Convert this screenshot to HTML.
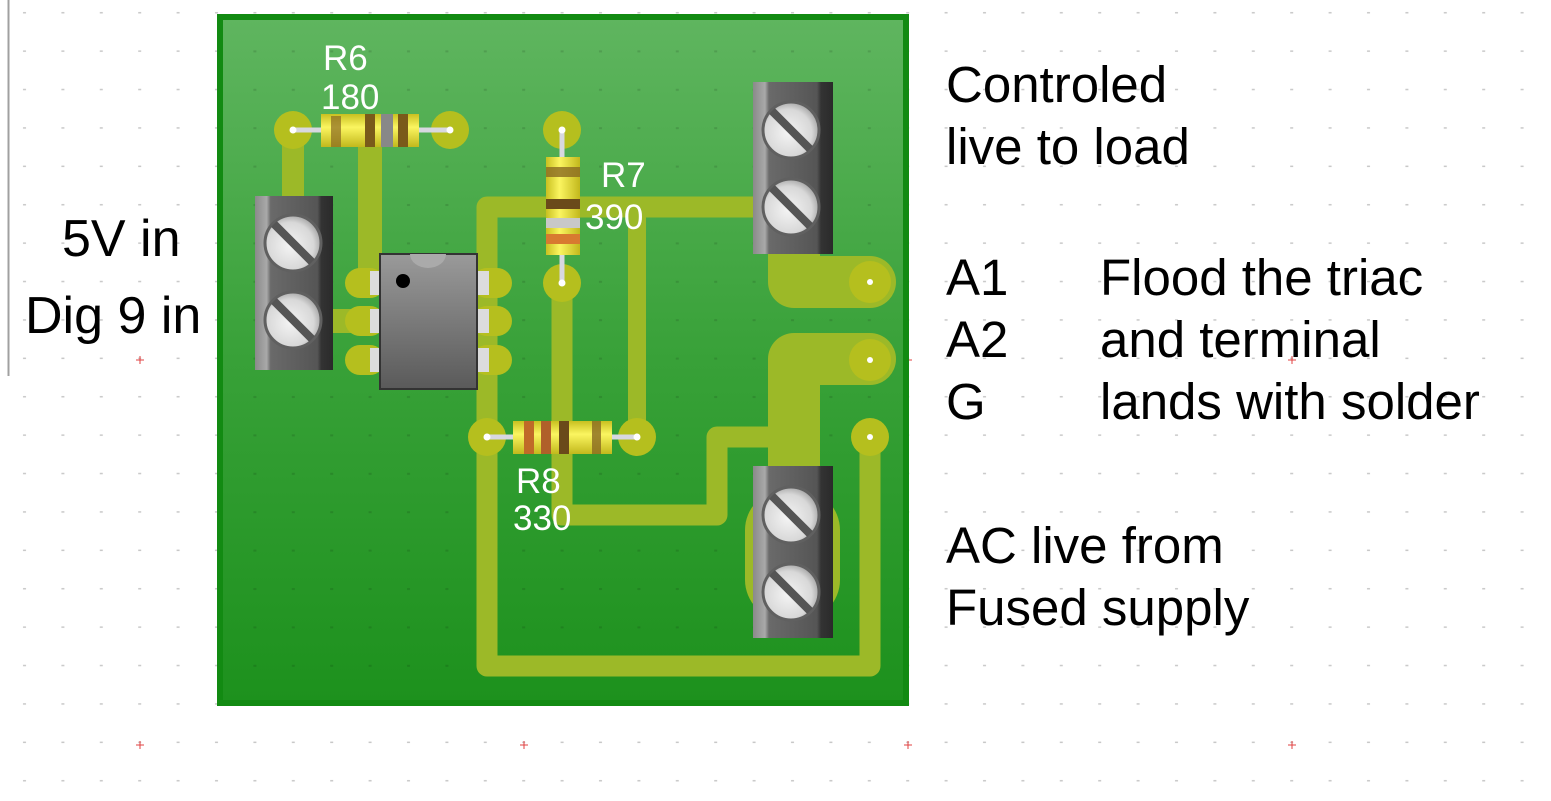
<!DOCTYPE html>
<html><head><meta charset="utf-8"><style>
html,body{margin:0;padding:0;background:#fff;}
svg{display:block;}
</style></head><body>
<svg width="1551" height="801" viewBox="0 0 1551 801" xmlns="http://www.w3.org/2000/svg">
<defs>
<pattern id="grid" x="5" y="-6" width="38.4" height="38.4" patternUnits="userSpaceOnUse">
<rect x="18" y="18" width="3" height="1.5" fill="#c8c8c8"/>
</pattern>
<pattern id="grid2" x="5" y="-6" width="38.4" height="38.4" patternUnits="userSpaceOnUse">
<rect x="18" y="18" width="3" height="2" fill="#000" opacity="0.12"/>
</pattern>
<linearGradient id="board" x1="0" y1="0" x2="0" y2="1">
<stop offset="0" stop-color="#5fb55f"/><stop offset="0.5" stop-color="#38a138"/><stop offset="1" stop-color="#1d911d"/>
</linearGradient>
<linearGradient id="term" x1="0" y1="0" x2="1" y2="0">
<stop offset="0" stop-color="#8a8a8a"/><stop offset="0.15" stop-color="#a9a9a9"/><stop offset="0.2" stop-color="#6a6a6a"/><stop offset="0.8" stop-color="#555"/><stop offset="0.85" stop-color="#333"/><stop offset="1" stop-color="#2a2a2a"/>
</linearGradient>
<radialGradient id="screw" cx="0.45" cy="0.55" r="0.6">
<stop offset="0" stop-color="#f4f4f4"/><stop offset="0.7" stop-color="#d8d8d8"/><stop offset="1" stop-color="#999"/>
</radialGradient>
<linearGradient id="ic" x1="0" y1="0" x2="0" y2="1">
<stop offset="0" stop-color="#9a9a9a"/><stop offset="1" stop-color="#5a5a5a"/>
</linearGradient>
<linearGradient id="resH" x1="0" y1="0" x2="0" y2="1">
<stop offset="0" stop-color="#c9c020"/><stop offset="0.4" stop-color="#fbf560"/><stop offset="1" stop-color="#c2b81c"/>
</linearGradient>
<linearGradient id="resV" x1="0" y1="0" x2="1" y2="0">
<stop offset="0" stop-color="#c9c020"/><stop offset="0.4" stop-color="#fbf560"/><stop offset="1" stop-color="#c2b81c"/>
</linearGradient>
</defs>
<rect width="1551" height="801" fill="url(#grid)"/>
<line x1="8.5" y1="0" x2="8.5" y2="376" stroke="#a0a0a0" stroke-width="2"/>
<g stroke="#e04040" stroke-width="1">
<path d="M136 360h8M140 356v8M520 360h8M524 356v8M1288 360h8M1292 356v8M136 745h8M140 741v8M520 745h8M524 741v8M904 745h8M908 741v8M1288 745h8M1292 741v8M904 360h8M908 356v8"/>
</g>
<rect x="217" y="14" width="692" height="692" fill="#128a12"/>
<rect x="223" y="20" width="680" height="680" fill="url(#board)"/>
<rect x="223" y="20" width="680" height="680" fill="url(#grid2)"/>
<g fill="none" stroke="#9cb928" stroke-linecap="round" stroke-linejoin="round">
<path d="M293 130V210" stroke-width="22"/>
<path d="M370 130V283" stroke-width="24"/>
<path d="M310 321H370" stroke-width="24"/>
<path d="M770 207H487V437" stroke-width="21"/>
<path d="M637 207V437" stroke-width="18"/>
<path d="M562 283V515H717V437H790" stroke-width="21"/>
<path d="M870 437V666H487V437" stroke-width="21"/>
<path d="M794 480V359H870" stroke-width="52"/>
<path d="M794 240V282H870" stroke-width="52"/>
</g>
<rect x="745" y="490" width="95" height="130" rx="40" fill="#9cb928"/>
<g fill="#b5bf1e">
<circle cx="293" cy="130" r="19"/><circle cx="450" cy="130" r="19"/>
<circle cx="562" cy="130" r="19"/><circle cx="562" cy="283" r="19"/>
<circle cx="487" cy="437" r="19"/><circle cx="637" cy="437" r="19"/>
<circle cx="870" cy="282" r="21"/><circle cx="870" cy="360" r="21"/><circle cx="870" cy="437" r="19"/>
<rect x="345" y="268" width="40" height="30" rx="15"/><rect x="345" y="306" width="40" height="30" rx="15"/><rect x="345" y="345" width="40" height="30" rx="15"/>
<rect x="472" y="268" width="40" height="30" rx="15"/><rect x="472" y="306" width="40" height="30" rx="15"/><rect x="472" y="345" width="40" height="30" rx="15"/>
</g>
<g stroke="#d8d8e0" stroke-width="5">
<path d="M293 130H450M562 130V283M487 437H637"/>
</g>
<g fill="#fff"><circle cx="293" cy="130" r="3.5"/><circle cx="450" cy="130" r="3.5"/><circle cx="562" cy="130" r="3.5"/><circle cx="562" cy="283" r="3.5"/><circle cx="487" cy="437" r="3.5"/><circle cx="637" cy="437" r="3.5"/><circle cx="870" cy="282" r="3"/><circle cx="870" cy="360" r="3"/><circle cx="870" cy="437" r="3"/></g>
<rect x="321" y="114" width="98" height="33" fill="url(#resH)"/>
<rect x="331" y="116" width="10" height="31" fill="#8a6a22" opacity="0.7"/>
<rect x="365" y="114" width="10" height="33" fill="#7a5a1a"/>
<rect x="381" y="114" width="12" height="33" fill="#888"/>
<rect x="398" y="114" width="10" height="33" fill="#7a5a1a"/>
<rect x="546" y="157" width="34" height="98" fill="url(#resV)"/>
<rect x="546" y="167" width="34" height="10" fill="#8a6a22" opacity="0.8"/>
<rect x="546" y="199" width="34" height="10" fill="#6a4a1a"/>
<rect x="546" y="218" width="34" height="10" fill="#c8c8c8"/>
<rect x="546" y="234" width="34" height="10" fill="#d87a30"/>
<rect x="513" y="421" width="99" height="33" fill="url(#resH)"/>
<rect x="524" y="421" width="10" height="33" fill="#c06a28"/>
<rect x="541" y="421" width="10" height="33" fill="#b0602a"/>
<rect x="559" y="421" width="10" height="33" fill="#6a4a1a"/>
<rect x="592" y="421" width="9" height="33" fill="#8a6a22" opacity="0.8"/>
<g fill="#dcdcdc"><rect x="370" y="271" width="12" height="24"/><rect x="370" y="309" width="12" height="24"/><rect x="370" y="348" width="12" height="24"/><rect x="477" y="271" width="12" height="24"/><rect x="477" y="309" width="12" height="24"/><rect x="477" y="348" width="12" height="24"/></g>
<rect x="380" y="254" width="97" height="135" fill="url(#ic)"/>
<rect x="380" y="254" width="97" height="135" fill="none" stroke="#333" stroke-width="2"/>
<path d="M410 254a18 14 0 0 0 36 0z" fill="#aaa"/>
<circle cx="403" cy="281" r="7" fill="#000"/>
<g>
<rect x="255" y="196" width="78" height="174" fill="url(#term)"/>
<rect x="753" y="82" width="80" height="172" fill="url(#term)"/>
<rect x="753" y="466" width="80" height="172" fill="url(#term)"/>
</g>
<g stroke="#606060" stroke-width="3" fill="url(#screw)">
<circle cx="293" cy="243" r="28"/><circle cx="293" cy="320" r="28"/>
<circle cx="791" cy="130" r="28"/><circle cx="791" cy="207" r="28"/>
<circle cx="791" cy="515" r="28"/><circle cx="791" cy="592" r="28"/>
</g>
<g stroke="#555" stroke-width="8">
<path d="M274 224L312 262M274 301L312 339M772 111L810 149M772 188L810 226M772 496L810 534M772 573L810 611"/>
</g>
<g font-family="Liberation Sans, sans-serif" font-size="35" fill="#fff">
<text x="323" y="70">R6</text><text x="321" y="109">180</text>
<text x="601" y="187">R7</text><text x="585" y="229">390</text>
<text x="516" y="493">R8</text><text x="513" y="530">330</text>
</g>
<g font-family="Liberation Sans, sans-serif" font-size="52" fill="#000">
<text x="62" y="256">5V in</text>
<text x="25" y="333">Dig 9 in</text>
</g>
<g font-family="Liberation Sans, sans-serif" font-size="51" fill="#000">
<text x="946" y="102">Controled</text>
<text x="946" y="164">live to load</text>
<text x="946" y="295">A1</text><text x="1100" y="295">Flood the triac</text>
<text x="946" y="357">A2</text><text x="1100" y="357">and terminal</text>
<text x="946" y="419">G</text><text x="1100" y="419">lands with solder</text>
<text x="946" y="563">AC live from</text>
<text x="946" y="625">Fused supply</text>
</g>
</svg>
</body></html>
